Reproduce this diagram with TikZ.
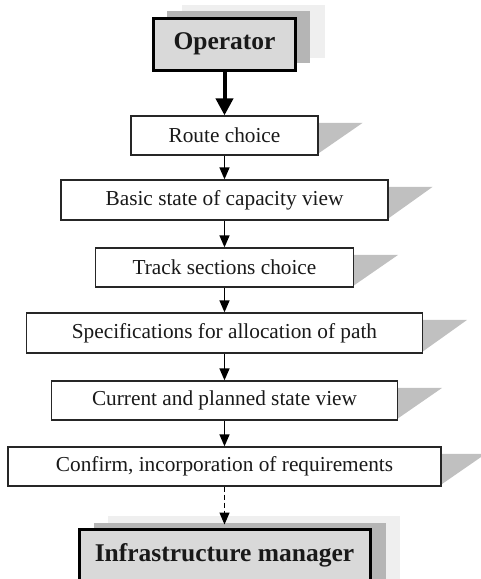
\documentclass[tikz,border=0pt]{standalone}
\usepackage{fontspec}
\setmainfont{Liberation Serif}
\usetikzlibrary{arrows.meta,calc,backgrounds}
\definecolor{headgray}{HTML}{D9D9D9}
\definecolor{shadedark}{HTML}{B5B5B5}
\definecolor{shadelight}{HTML}{EFEFEF}
\definecolor{tailgray}{HTML}{C0C0C0}
\begin{document}
\begin{tikzpicture}[x=1pt,y=-1pt,
  stepbox/.style={draw=black!85, line width=1.3pt, fill=white, inner sep=0pt,
    font=\fontsize{21.3}{24}\selectfont, text=black!90},
  headbox/.style={draw=black, line width=3pt, fill=headgray, inner sep=0pt,
    font=\bfseries\fontsize{25.5}{28}\selectfont, text=black!90},
  flow/.style={line width=1.3pt, -{Triangle[length=12pt,width=10pt]}},
  bigflow/.style={line width=4pt, -{Triangle[length=17pt,width=17pt]}},
  tail/.style={fill=tailgray},
]
\useasboundingbox (0,0) rectangle (480,579);

% header shadows
\fill[shadelight] (182,5) rectangle (325,58);
\fill[shadedark] (167,11) rectangle (310,63);
\fill[shadelight] (108,516) rectangle (400,600);
\fill[shadedark] (94,523) rectangle (386,600);

\node[headbox, minimum width=142pt, minimum height=52pt] (op) at (224.5,44) {Operator};
\node[headbox, minimum width=291pt, minimum height=52pt] (im) at (224.5,555) {Infrastructure manager};

\node[stepbox, minimum width=187pt, minimum height=39pt] (s1) at (224.5,135.5) {Route choice};
\node[stepbox, minimum width=327pt, minimum height=40pt] (s2) at (224.5,200) {Basic state of capacity view};
\node[stepbox, minimum width=258pt, minimum height=39pt] (s3) at (224.5,267.5) {Track sections choice};
\node[stepbox, minimum width=396pt, minimum height=40pt] (s4) at (224.5,333) {Specifications for allocation of path};
\node[stepbox, minimum width=346pt, minimum height=39pt] (s5) at (224.5,400.5) {Current and planned state view};
\node[stepbox, minimum width=433pt, minimum height=39pt] (s6) at (224.5,466.5) {Confirm, incorporation of requirements};

\begin{scope}[on background layer]
\foreach \n in {s1,s2,s3,s4,s5,s6}{
  \fill[tail] ($(\n.north east)+(-2,7.5)$) -- ++(46,0) -- ($(\n.south east)+(-2,-1)$) -- cycle;
}
\end{scope}

\draw[bigflow] (op.south) -- (s1.north);
\draw[flow] (s1.south) -- (s2.north);
\draw[flow] (s2.south) -- (s3.north);
\draw[flow] (s3.south) -- (s4.north);
\draw[flow] (s4.south) -- (s5.north);
\draw[flow] (s5.south) -- (s6.north);
\draw[flow, dash pattern=on 5pt off 3pt] (s6.south) -- ($(im.north)+(0,-3)$);
\end{tikzpicture}
\end{document}
